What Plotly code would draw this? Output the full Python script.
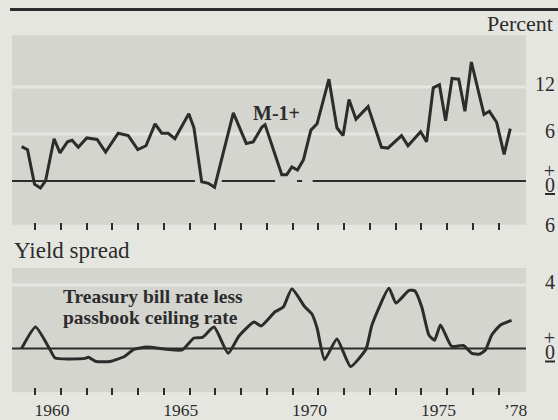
import plotly.graph_objects as go

# ---------------- data ----------------
m1_dates = [1959.48, 1959.71, 1959.98, 1960.21, 1960.41, 1960.74, 1960.97, 1961.26, 1961.44, 1961.68,
            1962.01, 1962.41, 1962.74, 1963.23, 1963.62, 1963.99, 1964.31, 1964.66, 1964.92, 1965.17,
            1965.43, 1965.97, 1966.17, 1966.47, 1966.73, 1966.97, 1967.70, 1968.20, 1968.47, 1968.81,
            1968.93, 1969.58, 1969.77, 1969.97, 1970.19, 1970.42, 1970.71, 1970.95, 1971.41, 1971.72,
            1971.96, 1972.19, 1972.46, 1972.93, 1973.45, 1973.70, 1974.23, 1974.48, 1974.97, 1975.20,
            1975.46, 1975.70, 1975.94, 1976.19, 1976.45, 1976.69, 1976.94, 1977.43, 1977.64, 1977.92,
            1978.21, 1978.45]
m1_growth = [4.4, 4.0, -0.4, -0.9, 0.0, 5.4, 3.6, 5.0, 5.2, 4.3,
             5.5, 5.3, 3.7, 6.1, 5.8, 4.0, 4.5, 7.3, 6.1, 6.1,
             5.4, 8.6, 6.8, -0.1, -0.3, -0.8, 8.7, 4.8, 5.0, 6.9,
             7.2, 0.8, 0.8, 1.8, 1.4, 2.7, 6.5, 7.3, 13.0, 6.8,
             5.8, 10.4, 7.9, 9.5, 4.3, 4.2, 5.8, 4.5, 6.3, 5.0,
             11.9, 12.3, 7.7, 13.1, 13.0, 8.9, 15.2, 8.5, 8.9, 7.5,
             3.4, 6.7]

spread_dates = [1959.48, 1960.02, 1960.58, 1960.78, 1961.94, 1962.07, 1962.37, 1962.91, 1963.45, 1963.84,
                1964.34, 1965.11, 1965.71, 1966.17, 1966.50, 1966.95, 1967.50, 1967.92, 1968.50, 1968.78,
                1969.32, 1969.64, 1969.97, 1970.47, 1970.75, 1970.95, 1971.24, 1971.72, 1972.25, 1972.85,
                1973.08, 1973.74, 1974.01, 1974.52, 1974.75, 1975.02, 1975.29, 1975.51, 1975.74, 1976.17,
                1976.63, 1976.96, 1977.27, 1977.49, 1977.73, 1978.05, 1978.50]
spread_values = [0.0, 1.35, -0.06, -0.6, -0.62, -0.55, -0.82, -0.82, -0.52, -0.05,
                 0.09, -0.05, -0.09, 0.66, 0.7, 1.35, -0.3, 0.79, 1.67, 1.42,
                 2.31, 2.61, 3.75, 2.63, 2.17, 1.29, -0.7, 0.6, -1.13, -0.03,
                 1.48, 3.79, 2.86, 3.65, 3.62, 2.58, 0.85, 0.52, 1.48, 0.14,
                 0.19, -0.3, -0.35, -0.09, 0.85, 1.45, 1.77]

tick_years = list(range(1960, 1979))
year_labels = {1960: "1960", 1965: "1965", 1970: "1970", 1975: "1975", 1978: "\u201978"}
top_tickvals = [12, 6, 0, -6]
top_ticktext = ["12", "6", "+/0", "6"]
bot_tickvals = [4, 0]
bot_ticktext = ["4", "+/0"]
top_grid = [12, 6]
bot_grid = [4]
top_band = (-5.6, 18.6)
bot_band = (-2.75, 5.06)
frame_years = (1959.107, 1979.06)
top_zero_segments = [(1959.107, 1966.21), (1967.25, 1969.32), (1970.17, 1970.37), (1970.78, 1979.06)]

# ---------------- styling ----------------
W, H = 558, 420
PAPER = "#e6e6e1"
SHADE = "#d5d5d0"
INK = "#2c2c2c"
SERIF = "Liberation Serif, Times New Roman, serif"
LABEL_PX = 20


def fmt_label(t):
    big = "<span style='font-size:%dpx'>%s</span>"
    if t == "+/0":
        return big % (LABEL_PX, "+") + "<br>" + big % (LABEL_PX, "<u>0</u>")
    return big % (LABEL_PX, t)


fig = go.Figure()
fig.add_trace(go.Scatter(x=m1_dates, y=m1_growth, mode="lines", xaxis="x", yaxis="y",
                         line=dict(color=INK, width=3), hoverinfo="skip", showlegend=False))
fig.add_trace(go.Scatter(x=spread_dates, y=spread_values, mode="lines", xaxis="x2", yaxis="y2",
                         line=dict(color=INK, width=3, shape="spline", smoothing=0.5),
                         hoverinfo="skip", showlegend=False))

shapes = []
shapes.append(dict(type="rect", xref="x", yref="y", x0=frame_years[0], x1=frame_years[1],
                   y0=top_band[0], y1=top_band[1], fillcolor=SHADE, line=dict(width=0), layer="below"))
shapes.append(dict(type="rect", xref="x", yref="y2", x0=frame_years[0], x1=frame_years[1],
                   y0=bot_band[0], y1=bot_band[1], fillcolor=SHADE, line=dict(width=0), layer="below"))
for g in top_grid:
    shapes.append(dict(type="line", xref="x", yref="y", x0=frame_years[0], x1=frame_years[1],
                       y0=g, y1=g, line=dict(color=PAPER, width=3), layer="below"))
for g in bot_grid:
    shapes.append(dict(type="line", xref="x", yref="y2", x0=frame_years[0], x1=frame_years[1],
                       y0=g, y1=g, line=dict(color=PAPER, width=3), layer="below"))
for a, b in top_zero_segments:
    shapes.append(dict(type="line", xref="x", yref="y", x0=a, x1=b, y0=0, y1=0,
                       line=dict(color=INK, width=2), layer="below"))
shapes.append(dict(type="line", xref="x", yref="y2", x0=frame_years[0], x1=frame_years[1], y0=0, y1=0,
                   line=dict(color=INK, width=2), layer="below"))
shapes.append(dict(type="line", xref="paper", yref="paper", x0=10 / W, x1=1, y0=1 - 9.5 / H, y1=1 - 9.5 / H,
                   line=dict(color=INK, width=3)))

annotations = [
    dict(text="Percent", xref="paper", yref="paper", x=555 / W, y=1 - 23 / H, xanchor="right",
         yanchor="middle", showarrow=False, font=dict(family=SERIF, size=22, color=INK)),
    dict(text="Yield spread", xref="paper", yref="paper", x=12 / W, y=1 - 250 / H, xanchor="left",
         yanchor="middle", showarrow=False, font=dict(family=SERIF, size=23, color=INK)),
    dict(text="<b>M-1+</b>", xref="x", yref="y", x=1969.39, y=8.7, xanchor="center",
         yanchor="middle", showarrow=False, font=dict(family=SERIF, size=20, color=INK)),
    dict(text="<b>Treasury bill rate less</b>", xref="x", yref="y2", x=1961.0, y=3.24, xanchor="left",
         yanchor="middle", showarrow=False, font=dict(family=SERIF, size=19.5, color=INK)),
    dict(text="<b>passbook ceiling rate</b>", xref="x", yref="y2", x=1961.0, y=1.96, xanchor="left",
         yanchor="middle", showarrow=False, font=dict(family=SERIF, size=19.5, color=INK)),
]

x_range = [1958.641, 1980.303]
fig.update_layout(
    width=W, height=H, margin=dict(l=0, r=0, t=0, b=0),
    paper_bgcolor=PAPER, plot_bgcolor=PAPER,
    shapes=shapes, annotations=annotations, showlegend=False,
    xaxis=dict(domain=[0, 1], range=x_range, anchor="free", position=1 - 221.5 / H,
               tickvals=tick_years, ticks="outside", ticklen=7, tickwidth=2, tickcolor=INK,
               showticklabels=False, showgrid=False, zeroline=False, showline=False, automargin=False),
    xaxis2=dict(domain=[0, 1], range=x_range, overlaying="x", anchor="free", position=1 - 386.5 / H,
                tickvals=tick_years, ticktext=[year_labels.get(y, "") for y in tick_years],
                ticks="outside", ticklen=7, tickwidth=2, tickcolor=INK,
                tickfont=dict(family=SERIF, size=17.5, color=INK), ticklabelshift=17,
                showgrid=False, zeroline=False, showline=False, automargin=False),
    yaxis=dict(domain=[0, 1], range=[-30.524, 23.116], anchor="free", position=1, side="right",
               tickvals=top_tickvals, ticktext=[fmt_label(t) for t in top_ticktext], ticks="",
               ticklabelposition="inside", tickfont=dict(family=SERIF, size=11, color=INK),
               showgrid=False, zeroline=False, showline=False, automargin=False),
    yaxis2=dict(domain=[0, 1], range=[-4.497, 21.918], overlaying="y", anchor="free", position=1, side="right",
                tickvals=bot_tickvals, ticktext=[fmt_label(t) for t in bot_ticktext], ticks="",
                ticklabelposition="inside", tickfont=dict(family=SERIF, size=11, color=INK),
                showgrid=False, zeroline=False, showline=False, automargin=False),
)

fig.write_html("out.html", config={"displayModeBar": False, "staticPlot": True},
               post_script="document.body.style.margin='0px';document.body.style.overflow='hidden';"
                           "document.body.style.background='" + PAPER + "';")
